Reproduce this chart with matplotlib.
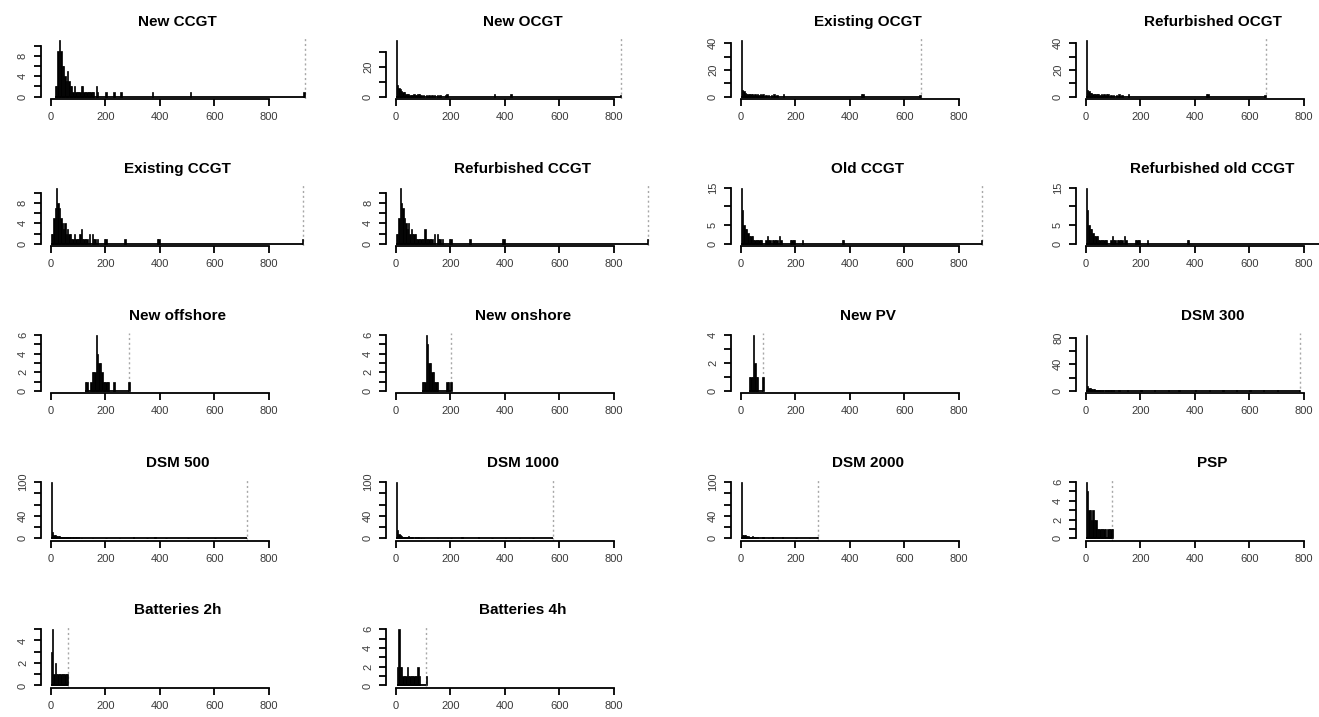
import matplotlib
matplotlib.use('Agg')
import matplotlib.pyplot as plt

plt.rcParams['font.family'] = ['Liberation Sans', 'DejaVu Sans']

# histogram bins: (left edge, count), bin width 5
new_ccgt = [(15, 2), (20, 2), (25, 9), (30, 11), (35, 9), (40, 6), (45, 6), (50, 4), (55, 3), (60, 5),
            (65, 3), (70, 2), (75, 2), (80, 1), (85, 2), (90, 1), (95, 1), (100, 1), (105, 1), (110, 2),
            (115, 2), (120, 1), (125, 1), (130, 1), (135, 1), (140, 1), (145, 1), (150, 1), (155, 1),
            (165, 2), (170, 1), (200, 1), (230, 1), (255, 1), (370, 1), (510, 1), (925, 1)]
new_ocgt = [(0, 38), (5, 8), (10, 6), (15, 5), (20, 4), (25, 3), (30, 3), (35, 2), (40, 2), (45, 2),
            (50, 1), (55, 1), (60, 1), (65, 2), (70, 1), (75, 1), (80, 2), (85, 2), (90, 1), (100, 1),
            (110, 1), (120, 1), (130, 1), (140, 1), (150, 1), (160, 1), (180, 1), (185, 2), (360, 2),
            (420, 2), (820, 1)]
existing_ocgt = [(0, 42), (5, 5), (10, 4), (15, 3), (20, 2), (25, 2), (30, 2), (35, 2), (40, 2), (45, 1),
                 (50, 2), (55, 1), (60, 2), (65, 1), (70, 2), (75, 1), (80, 2), (90, 1), (100, 1),
                 (110, 1), (120, 2), (130, 1), (155, 2), (440, 2), (445, 2), (655, 1)]
refurb_ocgt = [(0, 42), (5, 5), (10, 4), (15, 3), (20, 3), (25, 2), (30, 2), (35, 2), (40, 2), (45, 2),
               (50, 1), (55, 2), (60, 1), (65, 2), (70, 1), (75, 2), (80, 2), (90, 1), (100, 1),
               (110, 1), (120, 2), (130, 1), (155, 2), (440, 2), (445, 2), (655, 1)]
existing_ccgt = [(0, 2), (5, 2), (10, 5), (15, 7), (20, 11), (25, 8), (30, 7), (35, 5), (40, 4), (45, 3),
                 (50, 4), (55, 2), (60, 3), (65, 2), (70, 2), (75, 1), (80, 1), (85, 2), (90, 1), (95, 1),
                 (100, 1), (105, 2), (110, 3), (115, 1), (120, 1), (125, 1), (130, 1), (140, 2), (150, 2),
                 (155, 1), (160, 1), (170, 1), (195, 1), (200, 1), (270, 1), (390, 1), (395, 1), (920, 1)]
refurb_ccgt = [(0, 2), (5, 2), (10, 5), (15, 11), (20, 8), (25, 7), (30, 5), (35, 4), (40, 3), (45, 4),
               (50, 2), (55, 3), (60, 2), (65, 2), (70, 2), (75, 1), (80, 1), (85, 1), (90, 1), (95, 1),
               (100, 1), (105, 3), (110, 1), (115, 1), (120, 1), (125, 1), (130, 1), (140, 2), (150, 2),
               (155, 1), (160, 1), (170, 1), (195, 1), (200, 1), (270, 1), (390, 1), (395, 1), (920, 1)]
old_ccgt = [(0, 15), (5, 9), (10, 5), (15, 4), (20, 4), (25, 3), (30, 2), (35, 2), (40, 2), (45, 1),
            (50, 1), (55, 1), (60, 1), (65, 1), (70, 1), (75, 1), (90, 1), (95, 2), (100, 1), (105, 1),
            (115, 1), (120, 1), (125, 1), (130, 1), (140, 2), (145, 1), (180, 1), (185, 1), (190, 1),
            (195, 1), (225, 1), (370, 1), (375, 1), (880, 1)]
refurb_old_ccgt = [(0, 15), (5, 9), (10, 5), (15, 4), (20, 4), (25, 3), (30, 2), (35, 2), (40, 2), (45, 1),
                   (50, 1), (55, 1), (60, 1), (65, 1), (70, 1), (75, 1), (90, 1), (95, 2), (100, 1),
                   (105, 1), (115, 1), (120, 1), (125, 1), (130, 1), (140, 2), (145, 1), (180, 1),
                   (185, 1), (190, 1), (195, 1), (225, 1), (370, 1), (375, 1), (880, 1)]
new_offshore = [(125, 1), (130, 1), (145, 1), (150, 2), (155, 2), (160, 2), (165, 6), (170, 4), (175, 3),
                (180, 3), (185, 2), (190, 1), (195, 1), (200, 1), (205, 1), (210, 1), (230, 1), (285, 1)]
new_onshore = [(95, 1), (100, 1), (105, 1), (110, 6), (115, 5), (120, 3), (125, 3), (130, 2), (135, 2),
               (140, 1), (145, 1), (150, 1), (185, 1), (190, 1), (200, 1)]
new_pv = [(30, 1), (35, 1), (40, 1), (45, 4), (50, 2), (55, 1), (60, 1), (80, 1)]
dsm_300 = [(0, 84), (5, 8), (10, 5), (15, 4), (20, 3), (25, 3), (30, 3), (35, 2), (40, 2), (45, 2),
           (50, 2), (60, 2), (70, 1), (80, 2), (90, 1), (100, 1), (120, 1), (150, 1), (200, 1), (250, 1),
           (300, 1), (340, 2), (400, 1), (450, 1), (500, 1), (550, 1), (600, 1), (650, 1), (700, 1), (780, 2)]
dsm_500 = [(0, 100), (5, 12), (10, 6), (15, 5), (20, 4), (25, 4), (30, 4), (35, 3), (40, 3), (45, 3),
           (50, 3), (55, 3), (60, 2), (65, 2), (70, 2), (80, 3), (90, 2), (100, 3), (110, 1), (150, 1),
           (200, 1), (250, 1), (300, 2), (350, 1), (380, 3), (420, 1), (500, 1), (600, 1), (715, 1)]
dsm_1000 = [(0, 100), (5, 15), (10, 8), (15, 5), (20, 4), (25, 3), (30, 3), (35, 2), (40, 2), (45, 4),
            (50, 3), (55, 2), (60, 2), (70, 2), (80, 2), (90, 1), (100, 1), (150, 1), (200, 1), (240, 2),
            (300, 2), (350, 1), (400, 1), (450, 1), (500, 1), (570, 1)]
dsm_2000 = [(0, 100), (5, 6), (10, 5), (15, 5), (20, 4), (25, 4), (30, 3), (35, 3), (40, 4), (50, 2),
            (60, 2), (80, 2), (100, 1), (115, 3), (150, 2), (200, 1), (250, 1), (280, 3)]
psp = [(0, 6), (5, 5), (10, 3), (15, 3), (20, 2), (25, 3), (30, 2), (35, 2), (40, 1), (45, 1), (50, 1),
       (55, 1), (60, 1), (65, 1), (70, 1), (80, 1), (85, 1), (90, 1), (95, 1)]
batteries_2h = [(0, 3), (5, 5), (10, 1), (15, 2), (20, 1), (25, 1), (30, 1), (35, 1), (40, 1), (45, 1),
                (50, 1), (55, 1), (60, 1)]
batteries_4h = [(5, 2), (10, 6), (15, 2), (20, 2), (25, 1), (30, 1), (35, 1), (40, 2), (45, 1), (50, 1),
                (55, 1), (60, 1), (65, 1), (70, 1), (75, 1), (80, 2), (85, 1), (110, 1)]

titles = ['New CCGT', 'New OCGT', 'Existing OCGT', 'Refurbished OCGT',
          'Existing CCGT', 'Refurbished CCGT', 'Old CCGT', 'Refurbished old CCGT',
          'New offshore', 'New onshore', 'New PV', 'DSM 300',
          'DSM 500', 'DSM 1000', 'DSM 2000', 'PSP',
          'Batteries 2h', 'Batteries 4h']
all_bins = [new_ccgt, new_ocgt, existing_ocgt, refurb_ocgt,
            existing_ccgt, refurb_ccgt, old_ccgt, refurb_old_ccgt,
            new_offshore, new_onshore, new_pv, dsm_300,
            dsm_500, dsm_1000, dsm_2000, psp,
            batteries_2h, batteries_4h]
# grey dotted line (maximum)
max_vals = [930, 826, 660, 660, 925, 925, 883, 883, 287, 204, 82, 785, 719, 576, 285, 97, 63, 112]
y_steps = [2, 10, 10, 10, 2, 2, 5, 5, 1, 1, 1, 20, 20, 20, 20, 1, 1, 1]
y_labels = [[0, 4, 8], [0, 20], [0, 20, 40], [0, 20, 40],
            [0, 4, 8], [0, 4, 8], [0, 5, 15], [0, 5, 15],
            [0, 2, 4, 6], [0, 2, 4, 6], [0, 2, 4], [0, 40, 80],
            [0, 40, 100], [0, 40, 100], [0, 40, 100], [0, 2, 4, 6],
            [0, 2, 4], [0, 2, 4, 6]]
x_ticks = [0, 200, 400, 600, 800]

W, H = 1319, 717
BIN = 5
XMAX = max(max_vals)
fig = plt.figure(figsize=(W / 100, H / 100), dpi=100)

for i in range(len(titles)):
    r, c = divmod(i, 4)
    left = 40.5 + 345 * c
    bottom = 98.9 + 147.2 * r
    ax = fig.add_axes([left / W, 1 - bottom / H, 274.2 / W, 60.7 / H])

    xs = [b[0] for b in all_bins[i]]
    ns = [b[1] for b in all_bins[i]]
    top = max(ns)

    ax.axvline(max_vals[i], color='#a8a8a8', lw=1.0, ls=(0, (1.5, 2)), zorder=1)
    ax.hlines(0, min(xs), max_vals[i], color='black', lw=1.3, zorder=2)
    ax.bar(xs, ns, width=BIN, align='edge', color='black', edgecolor='black', lw=0.5, zorder=3)

    ax.set_xlim(-0.04 * XMAX, 1.04 * XMAX)
    ax.set_ylim(-0.04 * top, 1.04 * top)

    step = y_steps[i]
    yt = [k * step for k in range(int(1.04 * top // step) + 1)]
    ax.set_yticks(yt)
    ax.set_yticklabels([str(v) if v in y_labels[i] else '' for v in yt],
                       rotation=90, va='center')
    ax.set_xticks(x_ticks)
    ax.set_xticklabels([str(v) for v in x_ticks])

    for s in ['top', 'right']:
        ax.spines[s].set_visible(False)
    ax.spines['left'].set_bounds(0, yt[-1])
    ax.spines['bottom'].set_bounds(0, 800)
    for s in ['left', 'bottom']:
        ax.spines[s].set_linewidth(1.3)
    ax.tick_params(axis='both', length=5, width=1.3, labelsize=8, colors='black',
                   labelcolor='#3a3a3a')
    ax.tick_params(axis='x', pad=4.5)
    ax.tick_params(axis='y', pad=4)
    ax.set_title(titles[i], fontsize=11, fontweight='bold', pad=9)

fig.savefig('out.png', dpi=100)
